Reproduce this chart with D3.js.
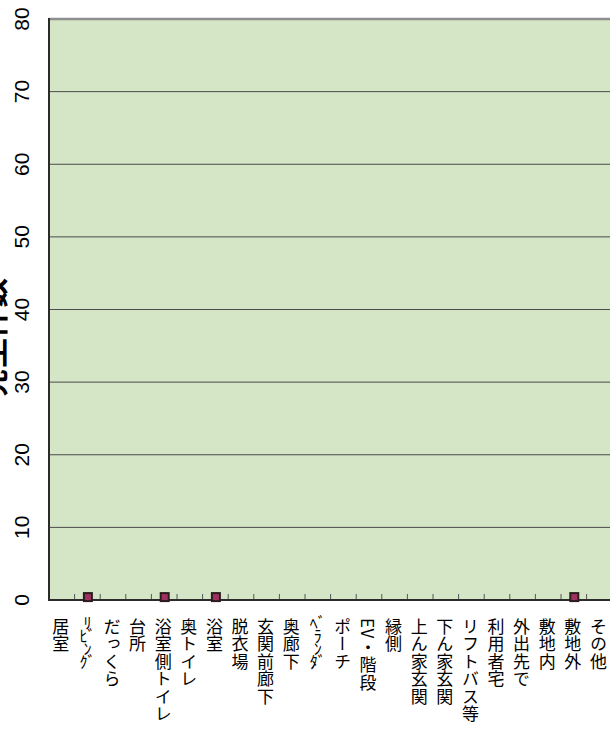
<!DOCTYPE html>
<html>
<head>
<meta charset="utf-8">
<script src="https://cdn.jsdelivr.net/npm/d3@7"></script>
<style>
body { margin: 0; background: #fff; overflow: hidden; }
svg { display: block; }
</style>
</head>
<body>
<svg id="chart" width="610" height="731"></svg>
<script>
// categories along the bottom (places)
const categories = ["居室", "ﾘﾋﾞﾝｸﾞ", "だっくら", "台所", "浴室側トイレ", "奥トイレ", "浴室", "脱衣場",
  "玄関前廊下", "奥廊下", "ﾍﾞﾗﾝﾀﾞ", "ポーチ", "EV・階段", "縁側", "上ん家玄関", "下ん家玄関",
  "リフトバス等", "利用者宅", "外出先で", "敷地内", "敷地外", "その他"];
// counts, null where no marker is drawn
const counts = [null, 0.4, null, null, 0.4, null, 0.4, null, null, null, null, null, null, null,
  null, null, null, null, null, null, 0.4, null];
const yTicks = [0, 10, 20, 30, 40, 50, 60, 70, 80];
const yTitle = "発生件数";

const svg = d3.select("#chart");
const plotLeft = 49, plotTop = 19, plotBottom = 600;
const bandW = 25.6;
const plotRight = plotLeft + bandW * categories.length;
const labelTop = 618;

const x = d3.scaleBand().domain(categories).range([plotLeft, plotRight]).padding(0);
const y = d3.scaleLinear().domain([0, 80]).range([plotBottom, plotTop]);

// plot background
svg.append("rect")
  .attr("x", plotLeft).attr("y", plotTop)
  .attr("width", plotRight - plotLeft).attr("height", plotBottom - plotTop)
  .attr("fill", "#d5e6c6");

// grid lines
svg.append("g").selectAll("line")
  .data(yTicks.filter(d => d > 0 && d < 80))
  .join("line")
  .attr("x1", plotLeft).attr("x2", plotRight)
  .attr("y1", d => y(d)).attr("y2", d => y(d))
  .attr("stroke", "#4a4a4a").attr("stroke-width", 1);

// top border
svg.append("line")
  .attr("x1", plotLeft).attr("x2", plotRight)
  .attr("y1", plotTop).attr("y2", plotTop)
  .attr("stroke", "#8e8e8e").attr("stroke-width", 2.5);

// left axis line
svg.append("line")
  .attr("x1", plotLeft).attr("x2", plotLeft)
  .attr("y1", plotTop - 1).attr("y2", plotBottom + 1)
  .attr("stroke", "#2b2b2b").attr("stroke-width", 2);

// category ticks (inside, at boundaries)
svg.append("g").selectAll("line")
  .data(categories.slice(1))
  .join("line")
  .attr("x1", d => x(d)).attr("x2", d => x(d))
  .attr("y1", plotBottom).attr("y2", plotBottom - 6)
  .attr("stroke", "#555").attr("stroke-width", 1);

// bottom axis line
svg.append("line")
  .attr("x1", plotLeft - 1).attr("x2", plotRight)
  .attr("y1", plotBottom).attr("y2", plotBottom)
  .attr("stroke", "#2b2b2b").attr("stroke-width", 2);

// y tick labels, rotated
svg.append("g").selectAll("text")
  .data(yTicks)
  .join("text")
  .attr("transform", d => `translate(28.5,${y(d)}) rotate(-90)`)
  .attr("text-anchor", "middle")
  .attr("font-family", "Liberation Sans, Arial, sans-serif")
  .attr("font-size", 21)
  .attr("fill", "#000")
  .text(d => d);

// y axis title (mostly outside the window)
svg.append("text")
  .attr("transform", `translate(4,338) rotate(-90)`)
  .attr("text-anchor", "middle")
  .attr("font-family", "Noto Sans CJK JP, sans-serif")
  .attr("font-weight", "bold")
  .attr("font-size", 30)
  .attr("fill", "#000")
  .text(yTitle);

// category labels, vertical; Latin letters lie sideways, kana upright
const halfKana = /[\uFF61-\uFF9F]/;
const cx = d => x(d) + x.bandwidth() / 2 - 1;

const labels = svg.append("g").selectAll("text")
  .data(categories)
  .join("text")
  .attr("font-family", "Noto Sans CJK JP, sans-serif")
  .attr("font-size", 17)
  .attr("fill", "#000");

labels.each(function(d) {
  const t = d3.select(this);
  if (halfKana.test(d)) {
    // half-width kana: stack each sound (with its voicing mark) in short steps
    const units = d.match(/[\uFF61-\uFF9D][\uFF9E\uFF9F]?/g);
    t.attr("text-anchor", "middle").attr("font-size", 16);
    units.forEach((u, i) => {
      t.append("tspan")
        .attr("x", cx(d) + 1)
        .attr("y", labelTop + 11 + i * 13)
        .text(u);
    });
    return;
  }
  t.attr("x", cx(d))
    .attr("y", labelTop)
    .attr("letter-spacing", 0.5)
    .style("writing-mode", "vertical-rl")
    .style("text-orientation", "upright");
  const parts = d.split(/([A-Za-z]+)/).filter(s => s.length);
  parts.forEach(p => {
    t.append("tspan")
      .style("text-orientation", /^[A-Za-z]+$/.test(p) ? "sideways" : "upright")
      .text(p);
  });
});

// markers
const pts = categories.map((c, i) => ({ c, v: counts[i] })).filter(d => d.v !== null);
svg.append("g").selectAll("rect")
  .data(pts)
  .join("rect")
  .attr("x", d => x(d.c) + x.bandwidth() / 2 - 3.5)
  .attr("y", d => y(d.v) - 4)
  .attr("width", 8).attr("height", 8)
  .attr("fill", "#a0305f")
  .attr("stroke", "#2a1c1c")
  .attr("stroke-width", 2);
</script>
</body>
</html>
